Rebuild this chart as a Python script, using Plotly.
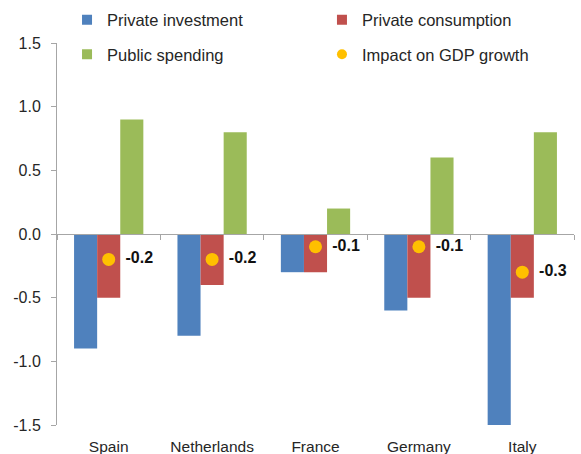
import plotly.graph_objects as go

countries = ["Spain", "Netherlands", "France", "Germany", "Italy"]
private_investment = [-0.9, -0.8, -0.3, -0.6, -1.5]
private_consumption = [-0.5, -0.4, -0.3, -0.5, -0.5]
public_spending = [0.9, 0.8, 0.2, 0.6, 0.8]
gdp_impact = [-0.2, -0.2, -0.1, -0.1, -0.3]
y_ticks = [-1.5, -1.0, -0.5, 0.0, 0.5, 1.0, 1.5]

BLUE = "#4F81BD"
RED = "#C0504D"
GREEN = "#9BBB59"
ORANGE = "#FFC000"
AXIS = "#A6A6A6"
TEXT = "#262626"
FONT = "Liberation Sans, Arial, sans-serif"

fig = go.Figure()
fig.add_trace(go.Bar(x=countries, y=private_investment, name="Private investment",
                     marker=dict(color=BLUE, line=dict(width=0)),
                     legend="legend", legendgroup="a", showlegend=False))
fig.add_trace(go.Bar(x=countries, y=private_consumption, name="Private consumption",
                     marker=dict(color=RED, line=dict(width=0)),
                     legend="legend2", legendgroup="b", showlegend=False))
fig.add_trace(go.Bar(x=countries, y=public_spending, name="Public spending",
                     marker=dict(color=GREEN, line=dict(width=0)),
                     legend="legend", legendgroup="c", showlegend=False))
fig.add_trace(go.Scatter(x=countries, y=gdp_impact, name="Impact on GDP growth",
                         mode="markers+text",
                         marker=dict(color=ORANGE, size=13, symbol="circle"),
                         text=[f" \u2009{v:.1f}" for v in gdp_impact],
                         textposition="middle right",
                         textfont=dict(family=FONT, size=16, color="#111111", weight="bold"),
                         cliponaxis=False, showlegend=False))

# legend entries (symbols)
legend_items = [
    ("Private investment", BLUE, "square", "legend", "a"),
    ("Public spending", GREEN, "square", "legend", "c"),
    ("Private consumption", RED, "square", "legend2", "b"),
    ("Impact on GDP growth", ORANGE, "circle", "legend2", "d"),
]
for name, col, sym, leg, grp in legend_items:
    fig.add_trace(go.Scatter(x=[None], y=[None], mode="markers", name=name,
                             marker=dict(color=col, symbol=sym, size=10),
                             legend=leg, legendgroup=grp, showlegend=True))

# invisible trace to hold the zero-line category axis
fig.add_trace(go.Scatter(x=countries, y=[0] * len(countries), xaxis="x2",
                         mode="markers", marker=dict(opacity=0),
                         showlegend=False, hoverinfo="skip"))

fig.update_layout(
    width=581, height=454,
    margin=dict(l=57, r=7, t=43, b=29, autoexpand=False),
    paper_bgcolor="white", plot_bgcolor="white",
    barmode="group", bargap=0.33, bargroupgap=0,
    font=dict(family=FONT, size=15, color=TEXT),
    xaxis=dict(type="category", range=[-0.5, 4.5], showline=False, ticks="",
               showgrid=False, zeroline=False, automargin=False,
               tickfont=dict(size=15.5, color=TEXT), ticklabelstandoff=10),
    xaxis2=dict(type="category", range=[-0.5, 4.5], overlaying="x", anchor="free",
                position=0.5, side="bottom", showline=True, linecolor=AXIS, linewidth=1,
                ticks="outside", tickson="boundaries", ticklen=5, tickcolor=AXIS,
                showticklabels=False, showgrid=False, zeroline=False, automargin=False,
                categoryorder="array", categoryarray=countries),
    yaxis=dict(range=[-1.5, 1.5], tickvals=y_ticks,
               ticktext=[f"{v:.1f}" for v in y_ticks],
               showline=True, linecolor=AXIS, linewidth=1,
               ticks="outside", ticklen=5, tickcolor=AXIS,
               showgrid=False, zeroline=False, automargin=False,
               tickfont=dict(size=16, color=TEXT), ticklabelstandoff=7),
    legend=dict(x=0.0194, xanchor="left", y=1.106, yanchor="top",
                orientation="v", tracegroupgap=10,
                font=dict(family=FONT, size=16.5, color=TEXT),
                bgcolor="rgba(0,0,0,0)"),
    legend2=dict(x=0.5125, xanchor="left", y=1.106, yanchor="top",
                 orientation="v", tracegroupgap=10,
                 font=dict(family=FONT, size=16.5, color=TEXT),
                 bgcolor="rgba(0,0,0,0)"),
)

fig.write_html("out.html", config={"displayModeBar": False},
               post_script="document.body.style.margin='0';document.body.style.overflow='hidden';")
